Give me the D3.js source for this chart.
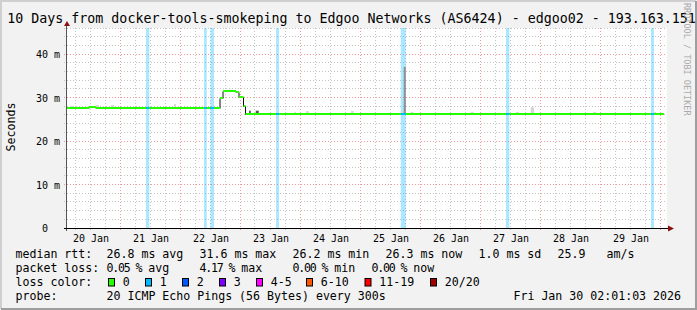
<html>
<head>
<script src="https://d3js.org/d3.v7.min.js"></script>
<style>
  body { margin: 0; background: #f2f2f2; }
  svg { display: block; }
  text { font-family: "DejaVu Sans Mono", monospace; white-space: pre; }
</style>
</head>
<body>
<svg></svg>
<script>
// median rtt in ms, each value holds until the next step time
var stepTimes = ["2026-01-20 02:36", "2026-01-20 11:24", "2026-01-20 14:12", "2026-01-22 15:48", "2026-01-22 17:00",
                 "2026-01-22 22:12", "2026-01-22 23:24", "2026-01-23 01:12", "2026-01-23 02:00", "2026-01-30 01:24"];
var medianMs = [27.7, 28.0, 27.7, 30.0, 31.6, 31.4, 30.3, 28.2, 26.4, 26.4];

// packet loss periods (lost pings out of 20)
var lossStart = ["2026-01-21 10:12", "2026-01-22 09:24", "2026-01-22 12:00", "2026-01-23 14:12",
                 "2026-01-25 16:06", "2026-01-27 10:12", "2026-01-29 20:12"];
var lossEnd   = ["2026-01-21 11:30", "2026-01-22 10:30", "2026-01-22 13:24", "2026-01-23 15:24",
                 "2026-01-25 18:06", "2026-01-27 11:30", "2026-01-29 21:24"];
var lossCount = [1, 1, 1, 1, 1, 1, 1];

// smoke: spread of the pings above the median (0 light, 1 medium, 2 dark)
var smokeStart = ["2026-01-20 03:48", "2026-01-20 14:12", "2026-01-20 20:12", "2026-01-21 21:24", "2026-01-22 09:24",
                  "2026-01-23 03:24", "2026-01-23 06:06", "2026-01-23 21:30", "2026-01-24 02:12", "2026-01-24 20:12",
                  "2026-01-25 16:06", "2026-01-25 17:18", "2026-01-25 20:06", "2026-01-26 20:06", "2026-01-27 14:12",
                  "2026-01-27 20:06", "2026-01-28 21:06", "2026-01-29 21:24"];
var smokeEnd   = ["2026-01-20 05:00", "2026-01-20 15:24", "2026-01-20 21:24", "2026-01-21 22:12", "2026-01-22 10:30",
                  "2026-01-23 04:06", "2026-01-23 07:18", "2026-01-23 22:12", "2026-01-24 03:18", "2026-01-24 21:18",
                  "2026-01-25 17:18", "2026-01-25 18:06", "2026-01-25 21:12", "2026-01-26 21:12", "2026-01-27 15:18",
                  "2026-01-27 21:24", "2026-01-28 22:12", "2026-01-29 22:12"];
var smokeTop   = [28.2, 28.4, 28.4, 28.6, 28.2, 27.1, 27.1, 26.8, 27.0, 27.0,
                  27.0, 37.2, 26.8, 26.8, 26.8, 27.9, 26.8, 26.8];
var smokeShade = [0, 0, 0, 0, 0, 2, 2, 0, 0, 0, 0, 1, 0, 0, 0, 0, 0, 0];

var dayLabels = ["20 Jan", "21 Jan", "22 Jan", "23 Jan", "24 Jan", "25 Jan", "26 Jan", "27 Jan", "28 Jan", "29 Jan"];
var yTicks = [0, 10, 20, 30, 40];
var yTickLabels = ["0  ", "10 m", "20 m", "30 m", "40 m"];

// legend
var rttStats = ["26.8 ms avg", "31.6 ms max", "26.2 ms min", "26.3 ms now", "1.0 ms sd", "25.9", "am/s"];
var lossValues = ["0.05", "4.17", "0.00", "0.00"];
var lossWords = ["avg", "max", "min", "now"];
var lossLabels = ["0", "1", "2", "3", "4-5", "6-10", "11-19", "20/20"];
var lossColors = ["#26ff00", "#00b8ff", "#0059ff", "#7e00ff", "#ff00ff", "#ff5500", "#ff0000", "#a10000"];

var width = 697, height = 310;
var parse = d3.timeParse("%Y-%m-%d %H:%M");
var t0 = parse("2026-01-20 02:36"), t1 = parse("2026-01-30 02:36");

var x = d3.scaleTime().domain([t0, t1]).range([67, 667]);
var y = d3.scaleLinear().domain([0, 46]).range([228.5, 28.5]);
var px = function(v) { return Math.round(v) - 0.5; };

var svg = d3.select("svg").attr("width", width).attr("height", height);

// frame
svg.append("rect").attr("width", width).attr("height", height).attr("fill", "#f2f2f2");
svg.append("path").attr("d", "M1,309V1H696").attr("fill", "none").attr("stroke", "#cfcfcf").attr("stroke-width", 2);
svg.append("path").attr("d", "M1,309H696V1").attr("fill", "none").attr("stroke", "#9e9e9e").attr("stroke-width", 2);

// canvas
svg.append("rect").attr("x", 67).attr("y", 28).attr("width", 600).attr("height", 200.5).attr("fill", "#fff");

// grid
var minorY = d3.range(0, 47, 2).filter(function(d) { return d % 10 != 0; });
var majorY = yTicks;
var minorX = d3.timeHour.every(6).range(t0, t1).filter(function(d) { return d.getHours() != 0; });
var majorX = d3.timeDay.range(t0, t1);

svg.append("g").selectAll("line").data(minorY).enter().append("line")
   .attr("x1", 64).attr("x2", 667)
   .attr("y1", function(d) { return px(y(d)); }).attr("y2", function(d) { return px(y(d)); })
   .attr("stroke", "#c4c4c4").attr("stroke-dasharray", "1,2");
svg.append("g").selectAll("line").data(minorX).enter().append("line")
   .attr("x1", function(d) { return px(x(d)); }).attr("x2", function(d) { return px(x(d)); })
   .attr("y1", 28).attr("y2", 231)
   .attr("stroke", "#c4c4c4").attr("stroke-dasharray", "1,2");
svg.append("g").selectAll("line").data(majorY.slice(1)).enter().append("line")
   .attr("x1", 64).attr("x2", 667)
   .attr("y1", function(d) { return px(y(d)); }).attr("y2", function(d) { return px(y(d)); })
   .attr("stroke", "#f29a9a").attr("stroke-dasharray", "1,2");
svg.append("g").selectAll("line").data(majorX).enter().append("line")
   .attr("x1", function(d) { return px(x(d)); }).attr("x2", function(d) { return px(x(d)); })
   .attr("y1", 28).attr("y2", 231)
   .attr("stroke", "#f29a9a").attr("stroke-dasharray", "1,2");

// loss bands
svg.append("g").selectAll("rect").data(lossStart).enter().append("rect")
   .attr("x", function(d) { return x(parse(d)); })
   .attr("width", function(d, i) { return x(parse(lossEnd[i])) - x(parse(d)); })
   .attr("y", 28).attr("height", 200.5)
   .attr("fill", function(d, i) { return lossColors[lossCount[i]]; })
   .attr("opacity", 0.33);

// median lookup
var steps = stepTimes.map(function(d, i) { return {t: parse(d), v: medianMs[i]}; });
function medianAt(t) {
  var i = d3.bisector(function(d) { return d.t; }).right(steps, t) - 1;
  return steps[Math.max(0, i)].v;
}

// smoke
var shades = ["#d6d6d6", "#8f8f8f", "#555555"];
svg.append("g").selectAll("rect").data(smokeStart).enter().append("rect")
   .attr("x", function(d) { return x(parse(d)); })
   .attr("width", function(d, i) { return x(parse(smokeEnd[i])) - x(parse(d)); })
   .attr("y", function(d, i) { return y(smokeTop[i]); })
   .attr("height", function(d, i) { return y(medianAt(parse(d))) - y(smokeTop[i]); })
   .attr("fill", function(d, i) { return shades[smokeShade[i]]; });

// median line: black steps, coloured flats
var ly = function(v) { return Math.round(y(v)); };
svg.append("path")
   .datum(steps)
   .attr("d", d3.line().x(function(d) { return x(d.t); }).y(function(d) { return ly(d.v) + 0.5; }).curve(d3.curveStepAfter))
   .attr("fill", "none").attr("stroke", "#111").attr("stroke-width", 1);
svg.append("g").selectAll("line").data(steps.slice(0, -1)).enter().append("line")
   .attr("x1", function(d) { return x(d.t); })
   .attr("x2", function(d, i) { return x(steps[i + 1].t); })
   .attr("y1", function(d) { return ly(d.v); }).attr("y2", function(d) { return ly(d.v); })
   .attr("stroke", lossColors[0]).attr("stroke-width", 2);
svg.append("g").selectAll("line").data(lossStart).enter().append("line")
   .attr("x1", function(d) { return x(parse(d)); })
   .attr("x2", function(d, i) { return x(parse(lossEnd[i])); })
   .attr("y1", function(d) { return ly(medianAt(parse(d))); })
   .attr("y2", function(d) { return ly(medianAt(parse(d))); })
   .attr("stroke", function(d, i) { return lossColors[lossCount[i]]; }).attr("stroke-width", 2);

// axes
svg.append("line").attr("x1", 66.5).attr("x2", 66.5).attr("y1", 231).attr("y2", 25)
   .attr("stroke", "#555");
svg.append("line").attr("x1", 64).attr("x2", 669).attr("y1", 228.5).attr("y2", 228.5)
   .attr("stroke", "#000");
svg.append("path").attr("d", "M64,26L67,21L70,26Z").attr("fill", "#8b1010");
svg.append("path").attr("d", "M668,225.5L674,228.5L668,231.5Z").attr("fill", "#8b1010");

var noons = dayLabels.map(function(d, i) { return d3.timeHour.offset(d3.timeDay.floor(t0), 12 + 24 * i); });
var xAxis = svg.append("g").attr("transform", "translate(0,232)")
   .call(d3.axisBottom(x).tickValues(noons).tickFormat(function(d, i) { return dayLabels[i]; }).tickSize(0).tickPadding(0));
xAxis.select(".domain").remove();
xAxis.selectAll("text").attr("font-family", "DejaVu Sans Mono").attr("font-size", "10px").attr("fill", "#000")
   .attr("dy", "0.95em");

var yAxis = svg.append("g").attr("transform", "translate(67,0)")
   .call(d3.axisLeft(y).tickValues(yTicks).tickFormat(function(d, i) { return yTickLabels[i]; }).tickSize(0).tickPadding(7));
yAxis.select(".domain").remove();
yAxis.selectAll("text").attr("font-family", "DejaVu Sans Mono").attr("font-size", "10px").attr("fill", "#000");

// titles
svg.append("text").attr("x", 7.3).attr("y", 23).attr("font-size", "13.3px").attr("fill", "#000")
   .text("10 Days from docker-tools-smokeping to Edgoo Networks (AS6424) - edgoo02 - 193.163.151");
svg.append("text").attr("transform", "translate(14.5,127)rotate(-90)").attr("text-anchor", "middle")
   .attr("font-size", "11.6px").attr("fill", "#000").text("Seconds");
svg.append("text").attr("transform", "translate(683.5,3)rotate(90)").attr("font-size", "8.5px")
   .attr("fill", "#aaa").text("RRDTOOL / TOBI OETIKER");

// legend
var lg = svg.append("g").attr("font-size", "11.6px").attr("fill", "#000");
var rowY = [258.3, 272, 285.7, 299.5];
lg.append("text").attr("x", 15.5).attr("y", rowY[0]).text("median rtt:");
lg.selectAll(".rtt").data(rttStats).enter().append("text").attr("class", "rtt")
  .attr("x", function(d, i) { return [106.5, 199.5, 292.5, 385.5, 478.5, 557.5, 606.5][i]; })
  .attr("y", rowY[0]).text(function(d) { return d; });

lg.append("text").attr("x", 15.5).attr("y", rowY[1]).text("packet loss:");
var lossX = [106.5, 199.5, 292.5, 371.5];
lossValues.forEach(function(v, i) {
  lg.append("text").attr("x", lossX[i]).attr("y", rowY[1]).attr("letter-spacing", "-1.2px").text(v);
  lg.append("text").attr("x", lossX[i] + 29).attr("y", rowY[1]).text("%");
  lg.append("text").attr("x", lossX[i] + 41.7).attr("y", rowY[1]).text(lossWords[i]);
});

lg.append("text").attr("x", 15.5).attr("y", rowY[2]).text("loss color:");
var boxX = [108.5, 145.5, 182.5, 219.5, 256.5, 306.5, 365, 430.5];
lg.selectAll(".box").data(lossColors).enter().append("rect").attr("class", "box")
  .attr("x", function(d, i) { return boxX[i]; }).attr("y", 278.5).attr("width", 6).attr("height", 7.5)
  .attr("fill", function(d) { return d; }).attr("stroke", "#000");
lg.selectAll(".lbl").data(lossLabels).enter().append("text").attr("class", "lbl")
  .attr("x", function(d, i) { return boxX[i] + 14.3; }).attr("y", rowY[2]).text(function(d) { return d; });
lg.append("text").attr("x", 15.5).attr("y", rowY[3]).text("probe:");
lg.append("text").attr("x", 106.5).attr("y", rowY[3]).text("20 ICMP Echo Pings (56 Bytes) every 300s");
lg.append("text").attr("x", 681).attr("y", rowY[3]).attr("text-anchor", "end").text("Fri Jan 30 02:01:03 2026");
</script>
</body>
</html>
